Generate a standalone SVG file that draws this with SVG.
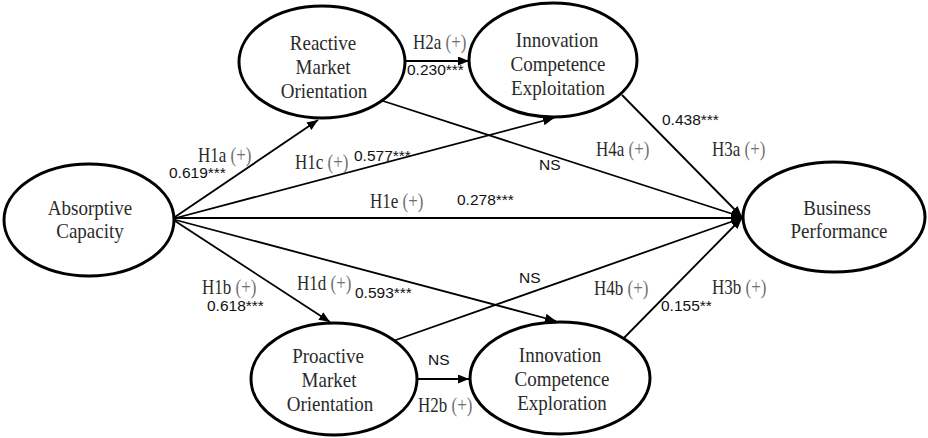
<svg xmlns="http://www.w3.org/2000/svg" width="928" height="438" viewBox="0 0 928 438">
<defs>
<style>
.bg{fill:#ffffff}
.node{fill:#ffffff;stroke:#000;stroke-width:3}
.nt{font-family:"Liberation Serif","Times New Roman",serif;font-size:19px;fill:#2a2a2a;text-anchor:middle}
.edge{stroke:#000;stroke-width:1.8;fill:none;marker-end:url(#ah)}
.h{font-family:"Liberation Serif","Times New Roman",serif;font-size:17px;fill:#2a2a2a}
.p{fill:#707070}
.v{font-family:"Liberation Sans",Arial,sans-serif;font-size:15.5px;fill:#111}
</style>
<marker id="ah" markerUnits="userSpaceOnUse" markerWidth="12" markerHeight="10" refX="11" refY="4.5" orient="auto">
<path d="M0,0 L11,4.5 L0,9 z" fill="#000"/>
</marker>
</defs>
<rect class="bg" x="0" y="0" width="928" height="438"/>

<g id="connectors">
<path class="edge" d="M172,219 L318,120"/>
<path class="edge" d="M172,219 L554,118"/>
<path class="edge" d="M172,218 L742,218"/>
<path class="edge" d="M172,219 L330,322"/>
<path class="edge" d="M172,219 L556,321"/>
<path class="edge" d="M380,100 L742,217"/>
<path class="edge" d="M622,95 L742,217"/>
<path class="edge" d="M393,341 L742,218"/>
<path class="edge" d="M620,342 L742,218"/>
<path class="edge" d="M404,61 L469,61"/>
<path class="edge" d="M416,379 L469,379"/>
</g>

<g id="absorptive-capacity">
<ellipse class="node" cx="89" cy="220" rx="85" ry="56"/>
<text class="nt" transform="translate(90,215) scale(1,1.1)">Absorptive</text>
<text class="nt" transform="translate(90,238) scale(1,1.1)">Capacity</text>
</g>

<g id="reactive-market-orientation">
<ellipse class="node" cx="322" cy="62" rx="83" ry="56"/>
<text class="nt" transform="translate(323,50) scale(1,1.15)">Reactive</text>
<text class="nt" transform="translate(323,74) scale(1,1.15)">Market</text>
<text class="nt" transform="translate(324,98) scale(1,1.15)">Orientation</text>
</g>

<g id="innovation-competence-exploitation">
<ellipse class="node" cx="553" cy="60" rx="84" ry="57"/>
<text class="nt" transform="translate(557,47) scale(1,1.15)">Innovation</text>
<text class="nt" transform="translate(558,71) scale(1,1.15)">Competence</text>
<text class="nt" transform="translate(558,95) scale(1,1.15)">Exploitation</text>
</g>

<g id="business-performance">
<ellipse class="node" cx="834" cy="217" rx="91" ry="55"/>
<text class="nt" transform="translate(837,215) scale(1,1.1)">Business</text>
<text class="nt" transform="translate(839,238) scale(1,1.1)">Performance</text>
</g>

<g id="proactive-market-orientation">
<ellipse class="node" cx="334" cy="379" rx="83" ry="56"/>
<text class="nt" transform="translate(328,363) scale(1,1.15)">Proactive</text>
<text class="nt" transform="translate(329,387) scale(1,1.15)">Market</text>
<text class="nt" transform="translate(330,411) scale(1,1.15)">Orientation</text>
</g>

<g id="innovation-competence-exploration">
<ellipse class="node" cx="560" cy="378" rx="90" ry="56"/>
<text class="nt" transform="translate(560,362) scale(1,1.15)">Innovation</text>
<text class="nt" transform="translate(562,386) scale(1,1.15)">Competence</text>
<text class="nt" transform="translate(562,410) scale(1,1.15)">Exploration</text>
</g>

<g id="labels">
<text class="h" transform="translate(413,49) scale(1,1.2)">H2a <tspan class="p">(+)</tspan></text>
<text class="v" x="407" y="75">0.230***</text>
<text class="h" transform="translate(198,162) scale(1,1.2)">H1a <tspan class="p">(+)</tspan></text>
<text class="v" x="169" y="178">0.619***</text>
<text class="h" transform="translate(295,169) scale(1,1.2)">H1c <tspan class="p">(+)</tspan></text>
<text class="v" x="354" y="161">0.577***</text>
<text class="h" transform="translate(370,208) scale(1,1.2)">H1e <tspan class="p">(+)</tspan></text>
<text class="v" x="457" y="205">0.278***</text>
<text class="v" x="539" y="170">NS</text>
<text class="h" transform="translate(596,156) scale(1,1.2)">H4a <tspan class="p">(+)</tspan></text>
<text class="v" x="662" y="125">0.438***</text>
<text class="h" transform="translate(712,156) scale(1,1.2)">H3a <tspan class="p">(+)</tspan></text>
<text class="h" transform="translate(202,294) scale(1,1.2)">H1b <tspan class="p">(+)</tspan></text>
<text class="v" x="207" y="311">0.618***</text>
<text class="h" transform="translate(297,290) scale(1,1.2)">H1d <tspan class="p">(+)</tspan></text>
<text class="v" x="355" y="298">0.593***</text>
<text class="v" x="519" y="283">NS</text>
<text class="h" transform="translate(594,295) scale(1,1.2)">H4b <tspan class="p">(+)</tspan></text>
<text class="h" transform="translate(712,294) scale(1,1.2)">H3b <tspan class="p">(+)</tspan></text>
<text class="v" x="661" y="311">0.155**</text>
<text class="v" x="428" y="365">NS</text>
<text class="h" transform="translate(418,412) scale(1,1.2)">H2b <tspan class="p">(+)</tspan></text>
</g>
</svg>
